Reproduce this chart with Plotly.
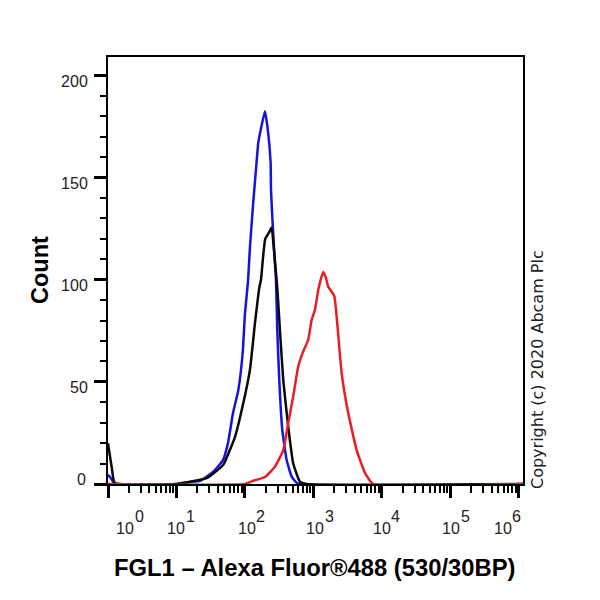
import numpy as np
import plotly.graph_objects as go

# curves: log10 of intensity, and count
blue_log = [0, 0.05, 0.1, 1.0, 1.197, 1.343, 1.533, 1.679, 1.752, 1.825, 1.902, 1.966, 2.0, 2.044, 2.073, 2.121,
            2.171, 2.194, 2.234, 2.292, 2.34, 2.375, 2.38, 2.404, 2.438, 2.453, 2.472, 2.501, 2.545, 2.609, 2.682,
            2.778, 6.06]
blue_count = [4.5, 2.5, 0, 0, 1, 1.5, 5.9, 11.7, 20, 34.7, 45.8, 64, 83.4, 99, 116, 138,
              158, 167, 174, 182.4, 171.5, 157, 144, 127.7, 108, 99.8, 75.3, 50.9, 26.4, 11.7, 3.6,
              0, 0]

black_log = [0, 0.054, 0.1, 1.0, 1.197, 1.441, 1.533, 1.683, 1.708, 1.854, 1.975, 2.073, 2.146, 2.209, 2.234, 2.267,
             2.296, 2.35, 2.39, 2.423, 2.472, 2.511, 2.559, 2.632, 2.705, 2.803, 2.9, 6.06]
black_count = [20, 8.3, 0.5, 0, 1.1, 2.9, 5, 9.4, 10.9, 23, 39.5, 56, 78.7, 96, 100, 112,
               120, 123, 125.5, 114.5, 96, 75, 50.9, 28, 10, 1.1, 0, 0]

red_log = [0, 2.0, 2.121, 2.292, 2.438, 2.559, 2.632, 2.705, 2.778, 2.851, 2.924, 2.974, 3.022, 3.07, 3.105, 3.143,
           3.182, 3.216, 3.304, 3.347, 3.412, 3.508, 3.631, 3.752, 3.873, 6.06]
red_count = [0, 0, 1.6, 3.4, 8.5, 16.6, 29.9, 42.9, 57.6, 64.9, 70.6, 80.4, 85.3, 95, 99.9, 103.8,
             101, 96.5, 92, 78.7, 54.2, 34.7, 16.6, 5.4, 0, 0]

count_ticks = [0, 50, 100, 150, 200]
count_labels = ["", "50", "100", "150", "200"]  # the 0 sits above its tick, so it gets its own annotation
decades = [0, 1, 2, 3, 4, 5, 6]
# the labels in the picture sit right of their ticks, and not by the same amount
label_shift = [17, 0, 2, 2, 0, 1, -16]

font_name = "Liberation Sans"
line_style = dict(width=2.5, shape="spline", smoothing=0.4)
tick_font = dict(family=font_name, size=16, color="#222222")

fig = go.Figure()
fig.add_trace(go.Scatter(x=10 ** np.array(blue_log), y=blue_count, mode="lines", cliponaxis=False,
                         line=dict(color="#1414dc", **line_style)))
fig.add_trace(go.Scatter(x=10 ** np.array(black_log), y=black_count, mode="lines", cliponaxis=False,
                         line=dict(color="#0a0a0a", **line_style)))
fig.add_trace(go.Scatter(x=10 ** np.array(red_log), y=red_count, mode="lines", cliponaxis=False,
                         line=dict(color="#ec1c24", **line_style)))

fig.update_xaxes(type="log", range=[0, 6.06], showgrid=False, zeroline=False, showline=True, mirror=True,
                 linecolor="black", linewidth=2, ticks="outside", ticklen=12, tickwidth=3, tickcolor="black",
                 tickvals=[10 ** d for d in decades], showticklabels=False, layer="below traces",
                 minor=dict(ticks="outside", ticklen=7, tickwidth=1.5, tickcolor="black", dtick="D1", showgrid=False))
fig.update_yaxes(range=[0, 209], showgrid=False, zeroline=False, showline=True, mirror=True,
                 linecolor="black", linewidth=2, ticks="outside", ticklen=12, tickwidth=3, tickcolor="black",
                 tickvals=count_ticks, ticktext=count_labels, tickfont=tick_font,
                 ticklabelstandoff=3, ticklabelshift=6, layer="below traces",
                 minor=dict(ticks="outside", ticklen=6, tickwidth=1.5, tickcolor="black", dtick=10, showgrid=False))

annotations = []
for d, shift in zip(decades, label_shift):
    annotations.append(dict(x=d, y=0, xref="x", yref="paper", yanchor="middle", yshift=-44, xshift=shift,
                            text="10", showarrow=False, font=tick_font))
    annotations.append(dict(x=d, y=0, xref="x", yref="paper", yanchor="middle", yshift=-32, xshift=shift + 14,
                            text=str(d), showarrow=False, font=tick_font))

# page body has an 8px margin, so everything sits 8px in from the window edge
body_margin = 8
plot_l, plot_r, plot_t, plot_b = 108, 523, 57, 484


def paper_x(px):
    return (px - plot_l) / (plot_r - plot_l)


def paper_y(py):
    return (plot_b - py) / (plot_b - plot_t)


annotations.append(dict(x=paper_x(88), y=0, xref="paper", yref="y", xanchor="right", yanchor="middle", yshift=5,
                        text="0", showarrow=False, font=tick_font))
annotations.append(dict(x=paper_x(40), y=paper_y(270), xref="paper", yref="paper", xanchor="center", yanchor="middle",
                        text="<b>Count</b>", textangle=-90, showarrow=False,
                        font=dict(family=font_name, size=23.5, color="black")))
annotations.append(dict(x=paper_x(315), y=paper_y(567), xref="paper", yref="paper", xanchor="center", yanchor="middle",
                        text="<b>FGL1 – Alexa Fluor®488 (530/30BP)</b>", showarrow=False,
                        font=dict(family=font_name, size=23.8, color="black")))
annotations.append(dict(x=paper_x(538), y=paper_y(370), xref="paper", yref="paper", xanchor="center", yanchor="middle",
                        text="Copyright (c) 2020 Abcam Plc", textangle=-90, showarrow=False,
                        font=dict(family="DejaVu Sans", size=16, color="#222222")))

fig.update_layout(width=600 - body_margin, height=600 - body_margin, autosize=False, showlegend=False,
                  margin=dict(l=plot_l - body_margin, r=600 - plot_r, t=plot_t - body_margin, b=600 - plot_b, pad=0),
                  paper_bgcolor="white", plot_bgcolor="white", annotations=annotations)

fig.write_html("out.html")
